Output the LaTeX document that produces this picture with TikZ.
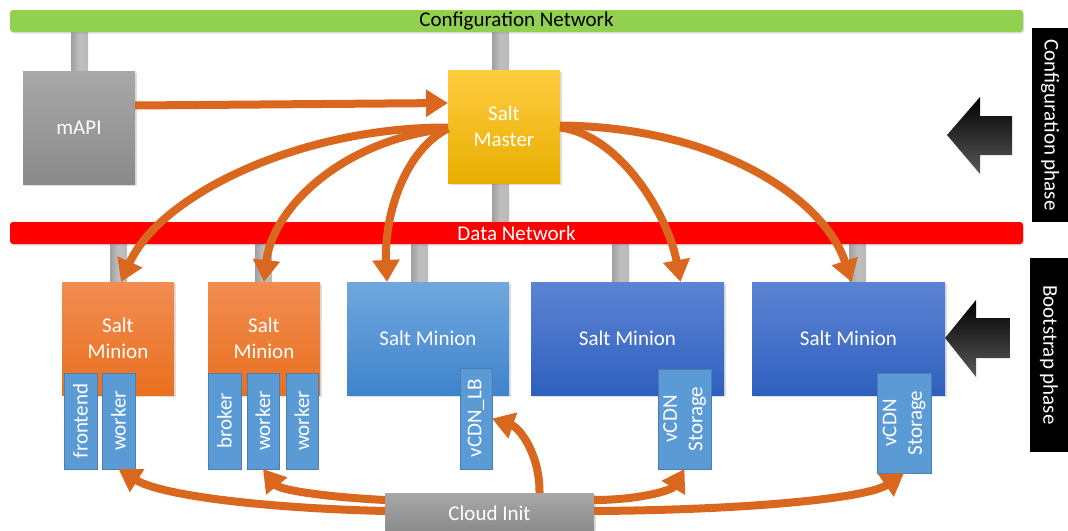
\documentclass[tikz,border=0pt]{standalone}
\usepackage{fontspec}
\setmainfont{Carlito}
\usetikzlibrary{arrows.meta,calc,shadows}
\definecolor{netgreen}{HTML}{92D050}
\definecolor{netred}{HTML}{FF0000}
\definecolor{arr}{HTML}{DA671E}
\definecolor{subfill}{HTML}{5B9BD5}
\definecolor{subdraw}{HTML}{4A7EB0}
\begin{document}
\begin{tikzpicture}[x=1pt,y=-1pt,
  font=\fontsize{21}{25.5}\selectfont,
  every node/.style={inner sep=0pt, outer sep=0pt},
  box/.style={anchor=north west, text=white, align=center,
    drop shadow={opacity=0.25, shadow xshift=1.5pt, shadow yshift=-1.5pt}},
  graybox/.style={box, top color={rgb,255:red,168;green,168;blue,168}, bottom color={rgb,255:red,138;green,138;blue,138}},
  masterbox/.style={box, top color={rgb,255:red,255;green,204;blue,64}, middle color={rgb,255:red,255;green,192;blue,0}, bottom color={rgb,255:red,232;green,174;blue,0}},
  orbox/.style={box, top color={rgb,255:red,242;green,140;blue,81}, bottom color={rgb,255:red,233;green,112;blue,31}},
  lbbox/.style={box, top color={rgb,255:red,113;green,167;blue,222}, bottom color={rgb,255:red,62;green,132;blue,204}},
  bluebox/.style={box, top color={rgb,255:red,92;green,132;blue,212}, bottom color={rgb,255:red,47;green,95;blue,190}},
  subbox/.style={fill=subfill, draw=subdraw, line width=1pt, text=white, align=center, rotate=90},
  stub/.style={anchor=north west, left color=gray!75, right color=gray!55, middle color=gray!50},
  bar/.style={anchor=north west, rounded corners=3pt,
    drop shadow={opacity=0.25, shadow xshift=1pt, shadow yshift=-1.5pt}},
  phase/.style={fill=black, text=white, rotate=-90},
  conn/.style={draw=arr, line width=8pt, -{Triangle[length=22pt,width=26pt]}},
]
\useasboundingbox (0,0) rectangle (1068,530);

% stubs
\node[stub, minimum width=17, minimum height=40] (st-mapi) at (71,31) {};
\node[stub, minimum width=17, minimum height=40] (st-m1) at (492,31) {};
\node[stub, minimum width=17, minimum height=40] (st-m2) at (492,183) {};
\node[stub, minimum width=17, minimum height=39] (st-a) at (110,243) {};
\node[stub, minimum width=17, minimum height=39] (st-b) at (255,243) {};
\node[stub, minimum width=17, minimum height=39] (st-c) at (411,243) {};
\node[stub, minimum width=17, minimum height=39] (st-d) at (612,243) {};
\node[stub, minimum width=17, minimum height=39] (st-e) at (849,243) {};

% networks
\node[bar, fill=netgreen, minimum width=1013, minimum height=22] (cfg) at (10,10) {};
\node at (cfg.center) {Configuration Network};
\node[bar, fill=netred, minimum width=1013, minimum height=22] (data) at (10,222) {};
\node[text=white] at (data.center) {Data Network};

% main boxes
\node[graybox, minimum width=112, minimum height=113] (mapi) at (23,71) {mAPI};
\node[masterbox, minimum width=112, minimum height=113] (master) at (448,70) {Salt\\Master};
\node[orbox, minimum width=112, minimum height=113] (m1) at (62,282) {Salt\\Minion};
\node[orbox, minimum width=112, minimum height=113] (m2) at (208,282) {Salt\\Minion};
\node[lbbox, minimum width=162, minimum height=113] (m3) at (347,282) {Salt Minion};
\node[bluebox, minimum width=193, minimum height=113] (m4) at (531,282) {Salt Minion};
\node[bluebox, minimum width=193, minimum height=113] (m5) at (752,282) {Salt Minion};

% sub boxes (rotated 90: west = visual bottom, south = visual right)
\node[subbox, minimum width=96, minimum height=33] (fe) at (80.5,421) {frontend};
\node[subbox, minimum width=96, minimum height=33] (w1) at (118.5,421) {worker};
\node[subbox, minimum width=96, minimum height=33] (br) at (224.5,421) {broker};
\node[subbox, minimum width=96, minimum height=32] (w2) at (263,421) {worker};
\node[subbox, minimum width=96, minimum height=32] (w3) at (302,421) {worker};
\node[subbox, minimum width=101, minimum height=32] (lb) at (476,418.5) {vCDN\_LB};
\node[subbox, minimum width=100, minimum height=53] (s4) at (684.5,419) {vCDN\\Storage};
\node[subbox, minimum width=100, minimum height=54] (s5) at (904,423) {vCDN\\Storage};

% cloud init
\node[graybox, minimum width=209, minimum height=40] (cloud) at (385,493) {Cloud Init};

% phases
\node[phase, minimum width=194, minimum height=36] (cph) at (1050,125) {Configuration phase};
\node[phase, minimum width=194, minimum height=38] (bph) at (1049,355) {Bootstrap phase};
\shade[top color=black, bottom color=black!65] (947,135) -- (980,97) -- (980,116) -- (1012,116) -- (1012,155) -- (980,155) -- (980,174) -- cycle;
\shade[top color=black, bottom color=black!65] (945,338) -- (976,300) -- (976,318) -- (1010,318) -- (1010,358) -- (976,358) -- (976,377) -- cycle;

% connectors
\draw[conn] ($(mapi.east)+(0,-22)$) -- ($(master.west)+(0,-23.5)$);
\draw[conn] ($(master.west)+(0,1)$) .. controls (300,127) and (160,195) .. ($(m1.north)+(3,0)$);
\draw[conn] ($(master.west)+(0,2)$) .. controls (340,140) and (272,210) .. (m2.north);
\draw[conn] ($(master.west)+(0,2)$) .. controls (405,150) and (384,215) .. ($(m3.north)+(-41,0)$);
\draw[conn] ($(master.east)+(0,1)$) .. controls (620,135) and (668,215) .. ($(m4.north)+(53,0)$);
\draw[conn] ($(master.east)+(0,-1)$) .. controls (720,127) and (825,200) .. ($(m5.north)+(3,0)$);

\draw[conn] ($(cloud.west)+(0,-2)$) .. controls (260,508) and (160,495) .. (w1.west);
\draw[conn] ($(cloud.west)+(0,-13)$) .. controls (325,497) and (280,490) .. (w2.west);
\draw[conn] ($(cloud.north)+(50,0)$) .. controls (540,455) and (520,428) .. (lb.south);
\draw[conn] ($(cloud.east)+(0,-13)$) .. controls (640,500) and (672,490) .. (s4.west);
\draw[conn] ($(cloud.east)+(0,-2)$) .. controls (750,510) and (868,498) .. (s5.west);
\end{tikzpicture}
\end{document}
